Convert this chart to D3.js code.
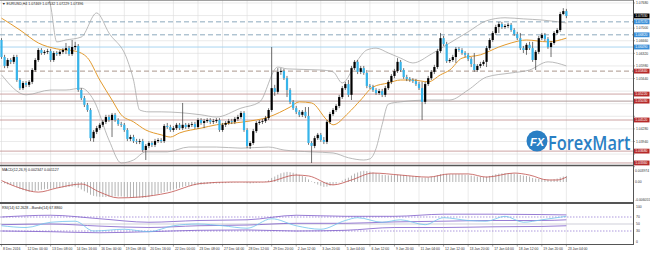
<!DOCTYPE html>
<html>
<head>
<meta charset="utf-8">
<title>EURUSD H4</title>
<script src="https://d3js.org/d3.v7.min.js"></script>
<style>
  body { margin: 0; background: #fff; }
</style>
</head>
<body>
<div id="chart"></div>
<script>
// ---- candles (H4, 8 Dec 2016 .. 23 Jan 2017) ----
const open = [
1.0668,1.0622,1.0598,1.0614,1.0609,1.0622,1.0560,1.0538,1.0552,1.0547,
1.0555,1.0587,1.0614,1.0641,1.0633,1.0636,1.0638,1.0614,1.0633,1.0630,
1.0636,1.0641,1.0646,1.0630,1.0649,1.0652,1.0533,1.0511,1.0493,1.0479,
1.0403,1.0420,1.0430,1.0439,1.0447,1.0460,1.0452,1.0466,1.0452,1.0441,
1.0439,1.0425,1.0401,1.0406,1.0395,1.0393,1.0395,1.0371,1.0382,1.0390,
1.0385,1.0395,1.0398,1.0395,1.0436,1.0433,1.0425,1.0430,1.0439,1.0430,
1.0439,1.0433,1.0439,1.0441,1.0433,1.0452,1.0444,1.0449,1.0452,1.0447,
1.0449,1.0452,1.0425,1.0439,1.0444,1.0449,1.0447,1.0455,1.0460,1.0471,
1.0425,1.0382,1.0390,1.0422,1.0444,1.0447,1.0449,1.0457,1.0479,1.0538,
1.0528,1.0582,1.0584,1.0565,1.0533,1.0501,1.0484,1.0474,1.0466,1.0474,
1.0463,1.0390,1.0382,1.0403,1.0412,1.0398,1.0393,1.0447,1.0468,1.0479,
1.0490,1.0514,1.0538,1.0549,1.0520,1.0592,1.0609,1.0582,1.0592,1.0579,
1.0544,1.0541,1.0533,1.0525,1.0530,1.0520,1.0538,1.0555,1.0571,1.0584,
1.0609,1.0587,1.0568,1.0563,1.0560,1.0557,1.0549,1.0538,1.0501,1.0549,
1.0565,1.0582,1.0595,1.0638,1.0673,1.0657,1.0611,1.0614,1.0622,1.0644,
1.0641,1.0633,1.0628,1.0617,1.0603,1.0587,1.0598,1.0603,1.0609,1.0646,
1.0668,1.0687,1.0703,1.0711,1.0703,1.0706,1.0709,1.0695,1.0684,1.0673,
1.0646,1.0641,1.0655,1.0646,1.0614,1.0636,1.0673,1.0682,1.0671,1.0649,
1.0660,1.0687,1.0695,1.0738,1.0746];
const high = [
1.0673,1.0628,1.0619,1.0619,1.0628,1.0628,1.0565,1.0557,1.0557,1.0560,
1.0592,1.0619,1.0646,1.0646,1.0641,1.0644,1.0644,1.0638,1.0638,1.0641,
1.0646,1.0660,1.0652,1.0668,1.0663,1.0657,1.0538,1.0517,1.0498,1.0484,
1.0425,1.0436,1.0444,1.0452,1.0466,1.0466,1.0471,1.0471,1.0457,1.0447,
1.0444,1.0430,1.0412,1.0412,1.0401,1.0401,1.0401,1.0387,1.0395,1.0395,
1.0401,1.0403,1.0403,1.0441,1.0444,1.0439,1.0436,1.0444,1.0444,1.0498,
1.0444,1.0444,1.0447,1.0447,1.0457,1.0457,1.0455,1.0457,1.0457,1.0455,
1.0457,1.0457,1.0444,1.0449,1.0455,1.0455,1.0460,1.0466,1.0476,1.0476,
1.0430,1.0395,1.0428,1.0449,1.0452,1.0455,1.0463,1.0484,1.0649,1.0547,
1.0592,1.0592,1.0590,1.0571,1.0538,1.0506,1.0490,1.0479,1.0479,1.0487,
1.0487,1.0395,1.0409,1.0417,1.0417,1.0406,1.0452,1.0474,1.0484,1.0495,
1.0520,1.0544,1.0555,1.0560,1.0598,1.0614,1.0614,1.0598,1.0598,1.0587,
1.0549,1.0547,1.0538,1.0536,1.0536,1.0544,1.0560,1.0576,1.0590,1.0619,
1.0614,1.0592,1.0574,1.0568,1.0565,1.0563,1.0555,1.0555,1.0555,1.0571,
1.0587,1.0601,1.0644,1.0687,1.0679,1.0663,1.0619,1.0628,1.0649,1.0649,
1.0646,1.0638,1.0633,1.0622,1.0633,1.0603,1.0609,1.0614,1.0652,1.0673,
1.0692,1.0709,1.0717,1.0717,1.0711,1.0714,1.0714,1.0700,1.0690,1.0687,
1.0652,1.0660,1.0663,1.0663,1.0641,1.0679,1.0687,1.0687,1.0676,1.0665,
1.0692,1.0700,1.0744,1.0754,1.0752];
const low = [
1.0617,1.0592,1.0592,1.0603,1.0603,1.0555,1.0533,1.0533,1.0541,1.0541,
1.0549,1.0582,1.0609,1.0628,1.0628,1.0630,1.0609,1.0609,1.0625,1.0625,
1.0630,1.0630,1.0625,1.0625,1.0641,1.0528,1.0506,1.0487,1.0474,1.0395,
1.0393,1.0414,1.0425,1.0433,1.0441,1.0447,1.0406,1.0447,1.0436,1.0433,
1.0420,1.0395,1.0395,1.0390,1.0387,1.0387,1.0366,1.0344,1.0376,1.0379,
1.0379,1.0390,1.0390,1.0390,1.0428,1.0420,1.0420,1.0425,1.0425,1.0425,
1.0428,1.0428,1.0433,1.0428,1.0428,1.0439,1.0430,1.0444,1.0441,1.0441,
1.0444,1.0420,1.0420,1.0433,1.0439,1.0441,1.0441,1.0449,1.0455,1.0420,
1.0376,1.0374,1.0385,1.0417,1.0439,1.0441,1.0444,1.0452,1.0474,1.0517,
1.0522,1.0574,1.0560,1.0514,1.0495,1.0479,1.0468,1.0460,1.0460,1.0457,
1.0385,1.0336,1.0376,1.0398,1.0393,1.0387,1.0387,1.0441,1.0463,1.0474,
1.0484,1.0509,1.0533,1.0514,1.0506,1.0587,1.0576,1.0576,1.0574,1.0538,
1.0536,1.0528,1.0520,1.0520,1.0514,1.0514,1.0533,1.0549,1.0565,1.0579,
1.0582,1.0563,1.0557,1.0555,1.0552,1.0544,1.0533,1.0452,1.0495,1.0544,
1.0560,1.0576,1.0590,1.0633,1.0652,1.0606,1.0606,1.0609,1.0606,1.0636,
1.0628,1.0622,1.0611,1.0595,1.0582,1.0582,1.0592,1.0598,1.0595,1.0641,
1.0663,1.0682,1.0687,1.0698,1.0698,1.0700,1.0690,1.0679,1.0668,1.0641,
1.0633,1.0628,1.0641,1.0609,1.0587,1.0630,1.0668,1.0665,1.0644,1.0622,
1.0655,1.0682,1.0690,1.0736,1.0727];
const close = [
1.0622,1.0598,1.0614,1.0609,1.0622,1.0560,1.0538,1.0552,1.0547,1.0555,
1.0587,1.0614,1.0641,1.0633,1.0636,1.0638,1.0614,1.0633,1.0630,1.0636,
1.0641,1.0646,1.0630,1.0649,1.0652,1.0533,1.0511,1.0493,1.0479,1.0403,
1.0420,1.0430,1.0439,1.0447,1.0460,1.0452,1.0466,1.0452,1.0441,1.0439,
1.0425,1.0401,1.0406,1.0395,1.0393,1.0395,1.0371,1.0382,1.0390,1.0385,
1.0395,1.0398,1.0395,1.0436,1.0433,1.0425,1.0430,1.0439,1.0430,1.0439,
1.0433,1.0439,1.0441,1.0433,1.0452,1.0444,1.0449,1.0452,1.0447,1.0449,
1.0452,1.0425,1.0439,1.0444,1.0449,1.0447,1.0455,1.0460,1.0471,1.0425,
1.0382,1.0390,1.0422,1.0444,1.0447,1.0449,1.0457,1.0479,1.0538,1.0528,
1.0582,1.0584,1.0565,1.0533,1.0501,1.0484,1.0474,1.0466,1.0474,1.0463,
1.0390,1.0382,1.0403,1.0412,1.0398,1.0393,1.0447,1.0468,1.0479,1.0490,
1.0514,1.0538,1.0549,1.0520,1.0592,1.0609,1.0582,1.0592,1.0579,1.0544,
1.0541,1.0533,1.0525,1.0530,1.0520,1.0538,1.0555,1.0571,1.0584,1.0609,
1.0587,1.0568,1.0563,1.0560,1.0557,1.0549,1.0538,1.0501,1.0549,1.0565,
1.0582,1.0595,1.0638,1.0673,1.0657,1.0611,1.0614,1.0622,1.0644,1.0641,
1.0633,1.0628,1.0617,1.0603,1.0587,1.0598,1.0603,1.0609,1.0646,1.0668,
1.0687,1.0703,1.0711,1.0703,1.0706,1.0709,1.0695,1.0684,1.0673,1.0646,
1.0641,1.0655,1.0646,1.0614,1.0636,1.0673,1.0682,1.0671,1.0649,1.0660,
1.0687,1.0695,1.0738,1.0746,1.0733];

// moving average and bollinger bands, read as [bar, price]
const maLine = [[0,1.0727],[6,1.0695],[12,1.0660],[18,1.0644],[24,1.0638],[28,1.0620],[32,1.0560],
  [36,1.0506],[39,1.0466],[43,1.0447],[47,1.0425],[52,1.0412],[55,1.0406],[58,1.0417],[65,1.0430],
  [70,1.0439],[79,1.0447],[87,1.0460],[94,1.0487],[97,1.0501],[101,1.0498],[106,1.0452],[108,1.0439],
  [113,1.0471],[117,1.0506],[121,1.0541],[126,1.0552],[130,1.0560],[134,1.0560],[139,1.0555],
  [143,1.0574],[146,1.0587],[150,1.0619],[156,1.0628],[162,1.0649],[166,1.0660],[171,1.0668],
  [178,1.0663],[184,1.0673]];
const bbUpper = [[14,1.0803],[16,1.0760],[18,1.0663],[21,1.0668],[26,1.0676],[31,1.0741],[35,1.0687],
  [41,1.0614],[43,1.0560],[45,1.0479],[48,1.0474],[52,1.0474],[65,1.0466],[70,1.0460],[78,1.0484],
  [84,1.0500],[90,1.0595],[93,1.0590],[104,1.0587],[108,1.0582],[111,1.0552],[116,1.0614],[119,1.0641],
  [122,1.0646],[126,1.0633],[130,1.0619],[134,1.0606],[140,1.0630],[146,1.0660],[152,1.0690],
  [158,1.0720],[164,1.0728],[170,1.0725],[176,1.0722],[184,1.0714]];
const bbLower = [[0,1.0574],[8,1.0520],[16,1.0533],[21,1.0533],[26,1.0538],[30,1.0506],[35,1.0398],
  [39,1.0336],[43,1.0344],[47,1.0366],[54,1.0366],[61,1.0379],[70,1.0379],[78,1.0376],[87,1.0379],
  [92,1.0371],[101,1.0366],[108,1.0363],[113,1.0350],[118,1.0344],[120,1.0347],[122,1.0375],
  [124,1.0440],[126,1.0495],[130,1.0501],[140,1.0506],[146,1.0506],[152,1.0533],[158,1.0568],
  [166,1.0579],[172,1.0587],[178,1.0609],[184,1.0598]];

// horizontal levels drawn on the chart
const levelPrices = [1.07170, 1.06820, 1.06490, 1.05840, 1.05220, 1.05030, 1.04520, 1.03680, 1.03360];
const lastPrice = 1.07330;

// MACD histogram (per bar) and signal [bar, value]
const macdHist = [
-0.0003,-0.0005,-0.0008,-0.0010,-0.0013,-0.0018,-0.0024,-0.0028,-0.0032,-0.0034,
-0.0033,-0.0031,-0.0029,-0.0027,-0.0025,-0.0024,-0.0023,-0.0022,-0.0021,-0.0020,
-0.0019,-0.0018,-0.0017,-0.0016,-0.0015,-0.0020,-0.0026,-0.0032,-0.0037,-0.0044,
-0.0048,-0.0050,-0.0051,-0.0052,-0.0052,-0.0051,-0.0050,-0.0050,-0.0050,-0.0050,
-0.0051,-0.0052,-0.0053,-0.0054,-0.0054,-0.0054,-0.0055,-0.0054,-0.0052,-0.0048,
-0.0044,-0.0041,-0.0038,-0.0035,-0.0032,-0.0029,-0.0026,-0.0023,-0.0020,-0.0017,
-0.0014,-0.0013,-0.0012,-0.0011,-0.0010,-0.0009,-0.0008,-0.0007,-0.0006,-0.0005,
-0.0005,-0.0005,-0.0004,-0.0004,-0.0003,-0.0003,-0.0002,-0.0002,-0.0001,-0.0002,
-0.0004,-0.0005,-0.0004,-0.0003,-0.0002,-0.0001,0.0002,0.0006,0.0014,0.0019,
0.0025,0.0030,0.0033,0.0035,0.0034,0.0032,0.0029,0.0025,0.0021,0.0017,
0.0009,0.0002,-0.0004,-0.0009,-0.0013,-0.0017,-0.0016,-0.0013,-0.0010,-0.0006,
-0.0001,0.0005,0.0011,0.0015,0.0022,0.0029,0.0033,0.0037,0.0039,0.0038,
0.0036,0.0033,0.0030,0.0028,0.0025,0.0024,0.0023,0.0023,0.0024,0.0025,
0.0025,0.0024,0.0022,0.0021,0.0020,0.0019,0.0018,0.0015,0.0015,0.0016,
0.0018,0.0020,0.0023,0.0027,0.0028,0.0028,0.0027,0.0027,0.0027,0.0027,
0.0026,0.0025,0.0024,0.0022,0.0020,0.0019,0.0018,0.0017,0.0019,0.0021,
0.0024,0.0027,0.0029,0.0030,0.0031,0.0031,0.0030,0.0029,0.0027,0.0024,
0.0022,0.0021,0.0019,0.0014,0.0012,0.0011,0.0010,0.0009,0.0009,0.0008,
0.0010,0.0012,0.0016,0.0019,0.0021];
const macdSignal = [[0,0.0005],[6,-0.0021],[12,-0.0035],[18,-0.0021],[26,-0.0007],[32,-0.0035],
  [38,-0.0055],[45,-0.0052],[54,-0.0038],[65,-0.0005],[75,0.0000],[86,0.0000],[96,0.0024],
  [100,0.0021],[108,-0.0010],[114,0.0007],[121,0.0031],[130,0.0024],[139,0.0017],[146,0.0028],
  [152,0.0028],[158,0.0017],[167,0.0031],[172,0.0024],[178,0.0007],[181,0.0007],[184,0.0017]];
const macdTicks = [0.003974, 0.00, -0.006055];
const macdTickLabels = ["0.003974", "0.00", "-0.006055"];

// RSI and bands on RSI, [bar, value]
const rsiLine = [[0,45],[8,40],[16,55],[24,58],[30,30],[40,35],[48,28],[56,45],[64,50],[72,45],[80,38],
  [88,65],[96,45],[104,35],[112,60],[116,68],[124,55],[130,62],[138,48],[144,68],[152,60],[158,58],
  [164,72],[170,55],[176,62],[184,72]];
const rsiBandUp = [[0,70],[16,75],[32,65],[48,55],[64,60],[80,62],[96,75],[112,72],[128,72],[144,78],
  [160,78],[176,77],[184,76]];
const rsiBandMid = [[0,48],[16,50],[32,44],[48,40],[64,45],[80,47],[96,52],[112,52],[128,56],[144,58],
  [160,60],[176,60],[184,62]];
const rsiBandLow = [[0,30],[16,28],[32,25],[48,28],[64,32],[80,33],[96,30],[112,32],[128,40],[144,40],
  [160,42],[176,43],[184,45]];
const rsiTicks = [100, 70, 50, 30, 0];

// price axis and time axis
const priceTicks = [1.0768,1.0734,1.0700,1.0666,1.0632,1.0598,1.0564,1.0530,1.0496,1.0462,1.0428,1.0394,1.0360,1.0326];
const timeTickBars = [0,8,16,24,32,40,48,56,64,72,80,88,96,104,112,120,128,136,144,152,160,168,176,184];
const timeTickLabels = ["8 Dec 2016","12 Dec 00:00","13 Dec 08:00","14 Dec 16:00","16 Dec 00:00",
  "19 Dec 08:00","20 Dec 16:00","22 Dec 00:00","23 Dec 08:00","27 Dec 04:00","28 Dec 12:00",
  "29 Dec 20:00","2 Jan 12:00","3 Jan 20:00","5 Jan 04:00","6 Jan 12:00","9 Jan 20:00","11 Jan 04:00",
  "12 Jan 12:00","13 Jan 20:00","17 Jan 04:00","18 Jan 12:00","19 Jan 20:00","23 Jan 04:00"];

// ---------------------------------------------------------------
const W = 650, H = 253, R = 633;
const svg = d3.select("#chart").append("svg")
  .attr("width", W).attr("height", H)
  .style("font-family", "'Liberation Sans', Arial, sans-serif");

const x = d3.scaleLinear().domain([0, 205.7]).range([1.5, R]);
const yP = d3.scaleLinear().domain([1.03305, 1.0776]).range([165, 0]);
const yM = d3.scaleLinear().domain([-0.00692, 0.00554]).range([202, 166]);
const yR = d3.scaleLinear().domain([0, 100]).range([241.5, 206.5]);

const panels = [[0, 165], [166, 202], [204, 244]];
const defs = svg.append("defs");
panels.forEach((p, k) => {
  defs.append("clipPath").attr("id", "clip" + k)
    .append("rect").attr("x", 0).attr("y", p[0]).attr("width", R).attr("height", p[1] - p[0]);
});

// grid
const grid = svg.append("g");
grid.selectAll("line.v").data(timeTickBars).join("line")
  .attr("x1", d => x(d)).attr("x2", d => x(d)).attr("y1", 0).attr("y2", 244)
  .attr("stroke", "#dcdcdc").attr("stroke-width", 0.6);
grid.selectAll("line.h").data(priceTicks.filter(v => yP(v) < 165)).join("line")
  .attr("x1", 0).attr("x2", R).attr("y1", d => yP(d)).attr("y2", d => yP(d))
  .attr("stroke", "#dcdcdc").attr("stroke-width", 0.6);

// level lines
const levelStyle = [
  {c: "#7f9fb5", d: "5,3"}, {c: "#7f9fb5", d: "5,3"}, {c: "#9fd0ef", d: null},
  {c: "#a08a80", d: "5,3"}, {c: "#c79a9a", d: null}, {c: "#a89090", d: null},
  {c: "#c79a9a", d: null}, {c: "#c79a9a", d: null}, {c: "#c79a9a", d: null}];
const lv = svg.append("g").attr("clip-path", "url(#clip0)");
levelPrices.forEach((p, k) => {
  lv.append("line").attr("x1", 0).attr("x2", R).attr("y1", yP(p)).attr("y2", yP(p))
    .attr("stroke", levelStyle[k].c).attr("stroke-width", 0.9)
    .attr("stroke-dasharray", levelStyle[k].d);
});

// logo
const logo = svg.append("g");
logo.append("circle").attr("cx", 537).attr("cy", 141).attr("r", 10.5).attr("fill", "#2a7fc4");
logo.append("text").attr("x", 537).attr("y", 145.5).attr("text-anchor", "middle")
  .attr("font-size", 11).attr("font-weight", "bold").attr("font-style", "italic")
  .attr("fill", "#fff").text("FX");
logo.append("text").attr("transform", "translate(548,150) scale(1,1.2)")
  .attr("font-size", 16.4)
  .attr("font-family", "'Open Sans', sans-serif").attr("font-weight", 600)
  .attr("fill", "#2a7fc4").text("ForexMart");

// bands and MA
const pg = svg.append("g").attr("clip-path", "url(#clip0)");
const pLine = d3.line().x(d => x(d[0])).y(d => yP(d[1])).curve(d3.curveMonotoneX);
[bbUpper, bbLower].forEach(s => pg.append("path").attr("d", pLine(s))
  .attr("fill", "none").attr("stroke", "#a8a8a8").attr("stroke-width", 0.8));
pg.append("path").attr("d", pLine(maLine)).attr("fill", "none")
  .attr("stroke", "#e39a2d").attr("stroke-width", 1);

// candles
const bars = close.map((c, i) => ({i, o: open[i], h: high[i], l: low[i], c}));
pg.selectAll("line.wick").data(bars).join("line")
  .attr("x1", d => x(d.i)).attr("x2", d => x(d.i))
  .attr("y1", d => yP(d.h)).attr("y2", d => yP(d.l))
  .attr("stroke", "#333").attr("stroke-width", 0.7);
pg.selectAll("rect.body").data(bars).join("rect")
  .attr("x", d => x(d.i) - 1.1).attr("width", 2.2)
  .attr("y", d => yP(Math.max(d.o, d.c)))
  .attr("height", d => Math.max(0.8, Math.abs(yP(d.o) - yP(d.c))))
  .attr("fill", d => d.c >= d.o ? "#000" : "#36b4ea");

// MACD
const mg = svg.append("g").attr("clip-path", "url(#clip1)");
mg.selectAll("line.hist").data(macdHist).join("line")
  .attr("x1", (d, i) => x(i)).attr("x2", (d, i) => x(i))
  .attr("y1", yM(0)).attr("y2", d => yM(d))
  .attr("stroke", "#a0a0a0").attr("stroke-width", 0.8);
const mLine = d3.line().x(d => x(d[0])).y(d => yM(d[1])).curve(d3.curveMonotoneX);
mg.append("path").attr("d", mLine(macdSignal)).attr("fill", "none")
  .attr("stroke", "#c0504d").attr("stroke-width", 0.8);

// RSI
const rg = svg.append("g").attr("clip-path", "url(#clip2)");
[70, 30].forEach(v => rg.append("line").attr("x1", 0).attr("x2", R)
  .attr("y1", yR(v)).attr("y2", yR(v)).attr("stroke", "#8a6fd0")
  .attr("stroke-width", 0.7).attr("stroke-dasharray", "1.5,1.5"));
rg.append("line").attr("x1", 0).attr("x2", R).attr("y1", yR(50)).attr("y2", yR(50))
  .attr("stroke", "#b0b0c0").attr("stroke-width", 0.6);
const rLine = d3.line().x(d => x(d[0])).y(d => yR(d[1])).curve(d3.curveMonotoneX);
[rsiBandUp, rsiBandMid, rsiBandLow].forEach(s => rg.append("path").attr("d", rLine(s))
  .attr("fill", "none").attr("stroke", "#7e5cc9").attr("stroke-width", 0.8));
rg.append("path").attr("d", rLine(rsiLine)).attr("fill", "none")
  .attr("stroke", "#6fc3ec").attr("stroke-width", 0.8);

// panel frames
const frame = svg.append("g").attr("fill", "none");
frame.append("line").attr("x1", 0).attr("x2", R).attr("y1", 0.5).attr("y2", 0.5).attr("stroke", "#888").attr("stroke-width", 0.8);
[[165.5, 1.6], [203, 1.8], [244.5, 1]].forEach(s => frame.append("line")
  .attr("x1", 0).attr("x2", R).attr("y1", s[0]).attr("y2", s[0])
  .attr("stroke", "#555").attr("stroke-width", s[1]));
frame.append("line").attr("x1", R + 0.5).attr("x2", R + 0.5).attr("y1", 0).attr("y2", 245)
  .attr("stroke", "#555").attr("stroke-width", 1);

// axis labels (a tick label hidden under a price box is skipped, as the terminal does)
const boxPrices = levelPrices.concat([lastPrice]);
const ax = svg.append("g").attr("font-size", 3.4).attr("fill", "#333");
priceTicks.forEach(v => {
  ax.append("line").attr("x1", R).attr("x2", R + 2).attr("y1", yP(v)).attr("y2", yP(v)).attr("stroke", "#555").attr("stroke-width", 0.5);
  if (boxPrices.some(b => Math.abs(yP(b) - yP(v)) < 4.6)) return;
  ax.append("text").attr("x", R + 3).attr("y", yP(v) + 1.2).text(v.toFixed(5));
});
macdTicks.forEach((v, k) => ax.append("text").attr("x", R + 2).attr("y", yM(v) + 1.2).text(macdTickLabels[k]));
rsiTicks.forEach(v => ax.append("text").attr("x", R + 3).attr("y", yR(v) + 1.2).text(v));
timeTickBars.forEach((b, k) => {
  ax.append("line").attr("x1", x(b)).attr("x2", x(b)).attr("y1", 244).attr("y2", 246.5).attr("stroke", "#555").attr("stroke-width", 0.5);
  ax.append("text").attr("x", x(b) + 1.5).attr("y", 250).text(timeTickLabels[k]);
});

// price boxes on the axis
const boxColors = ["#3a8fd8", "#3a8fd8", "#3a8fd8", "#b52a2a", "#b52a2a", "#b52a2a", "#b52a2a", "#b52a2a", "#b52a2a"];
const boxes = svg.append("g").attr("font-size", 3.4);
function priceBox(p, fill) {
  boxes.append("rect").attr("x", R + 1).attr("y", yP(p) - 2.4).attr("width", 15.5).attr("height", 4.8).attr("fill", fill);
  boxes.append("text").attr("x", R + 2.2).attr("y", yP(p) + 1.2).attr("fill", "#fff").text(p.toFixed(5));
}
levelPrices.forEach((p, k) => priceBox(p, boxColors[k]));
priceBox(lastPrice, "#000");

// titles
const tt = svg.append("g").attr("font-size", 3.6).attr("fill", "#222");
tt.append("text").attr("x", 2).attr("y", 5).text("\u25BC EURUSD,H4  1.07469 1.07532 1.07229 1.07396");
tt.append("text").attr("x", 2).attr("y", 171).text("MACD(12,26,9) 0.002347 0.001127");
tt.append("text").attr("x", 2).attr("y", 208.5).text("RSI(14) 62.2628    --Bands(14) 67.8860");
</script>
</body>
</html>
